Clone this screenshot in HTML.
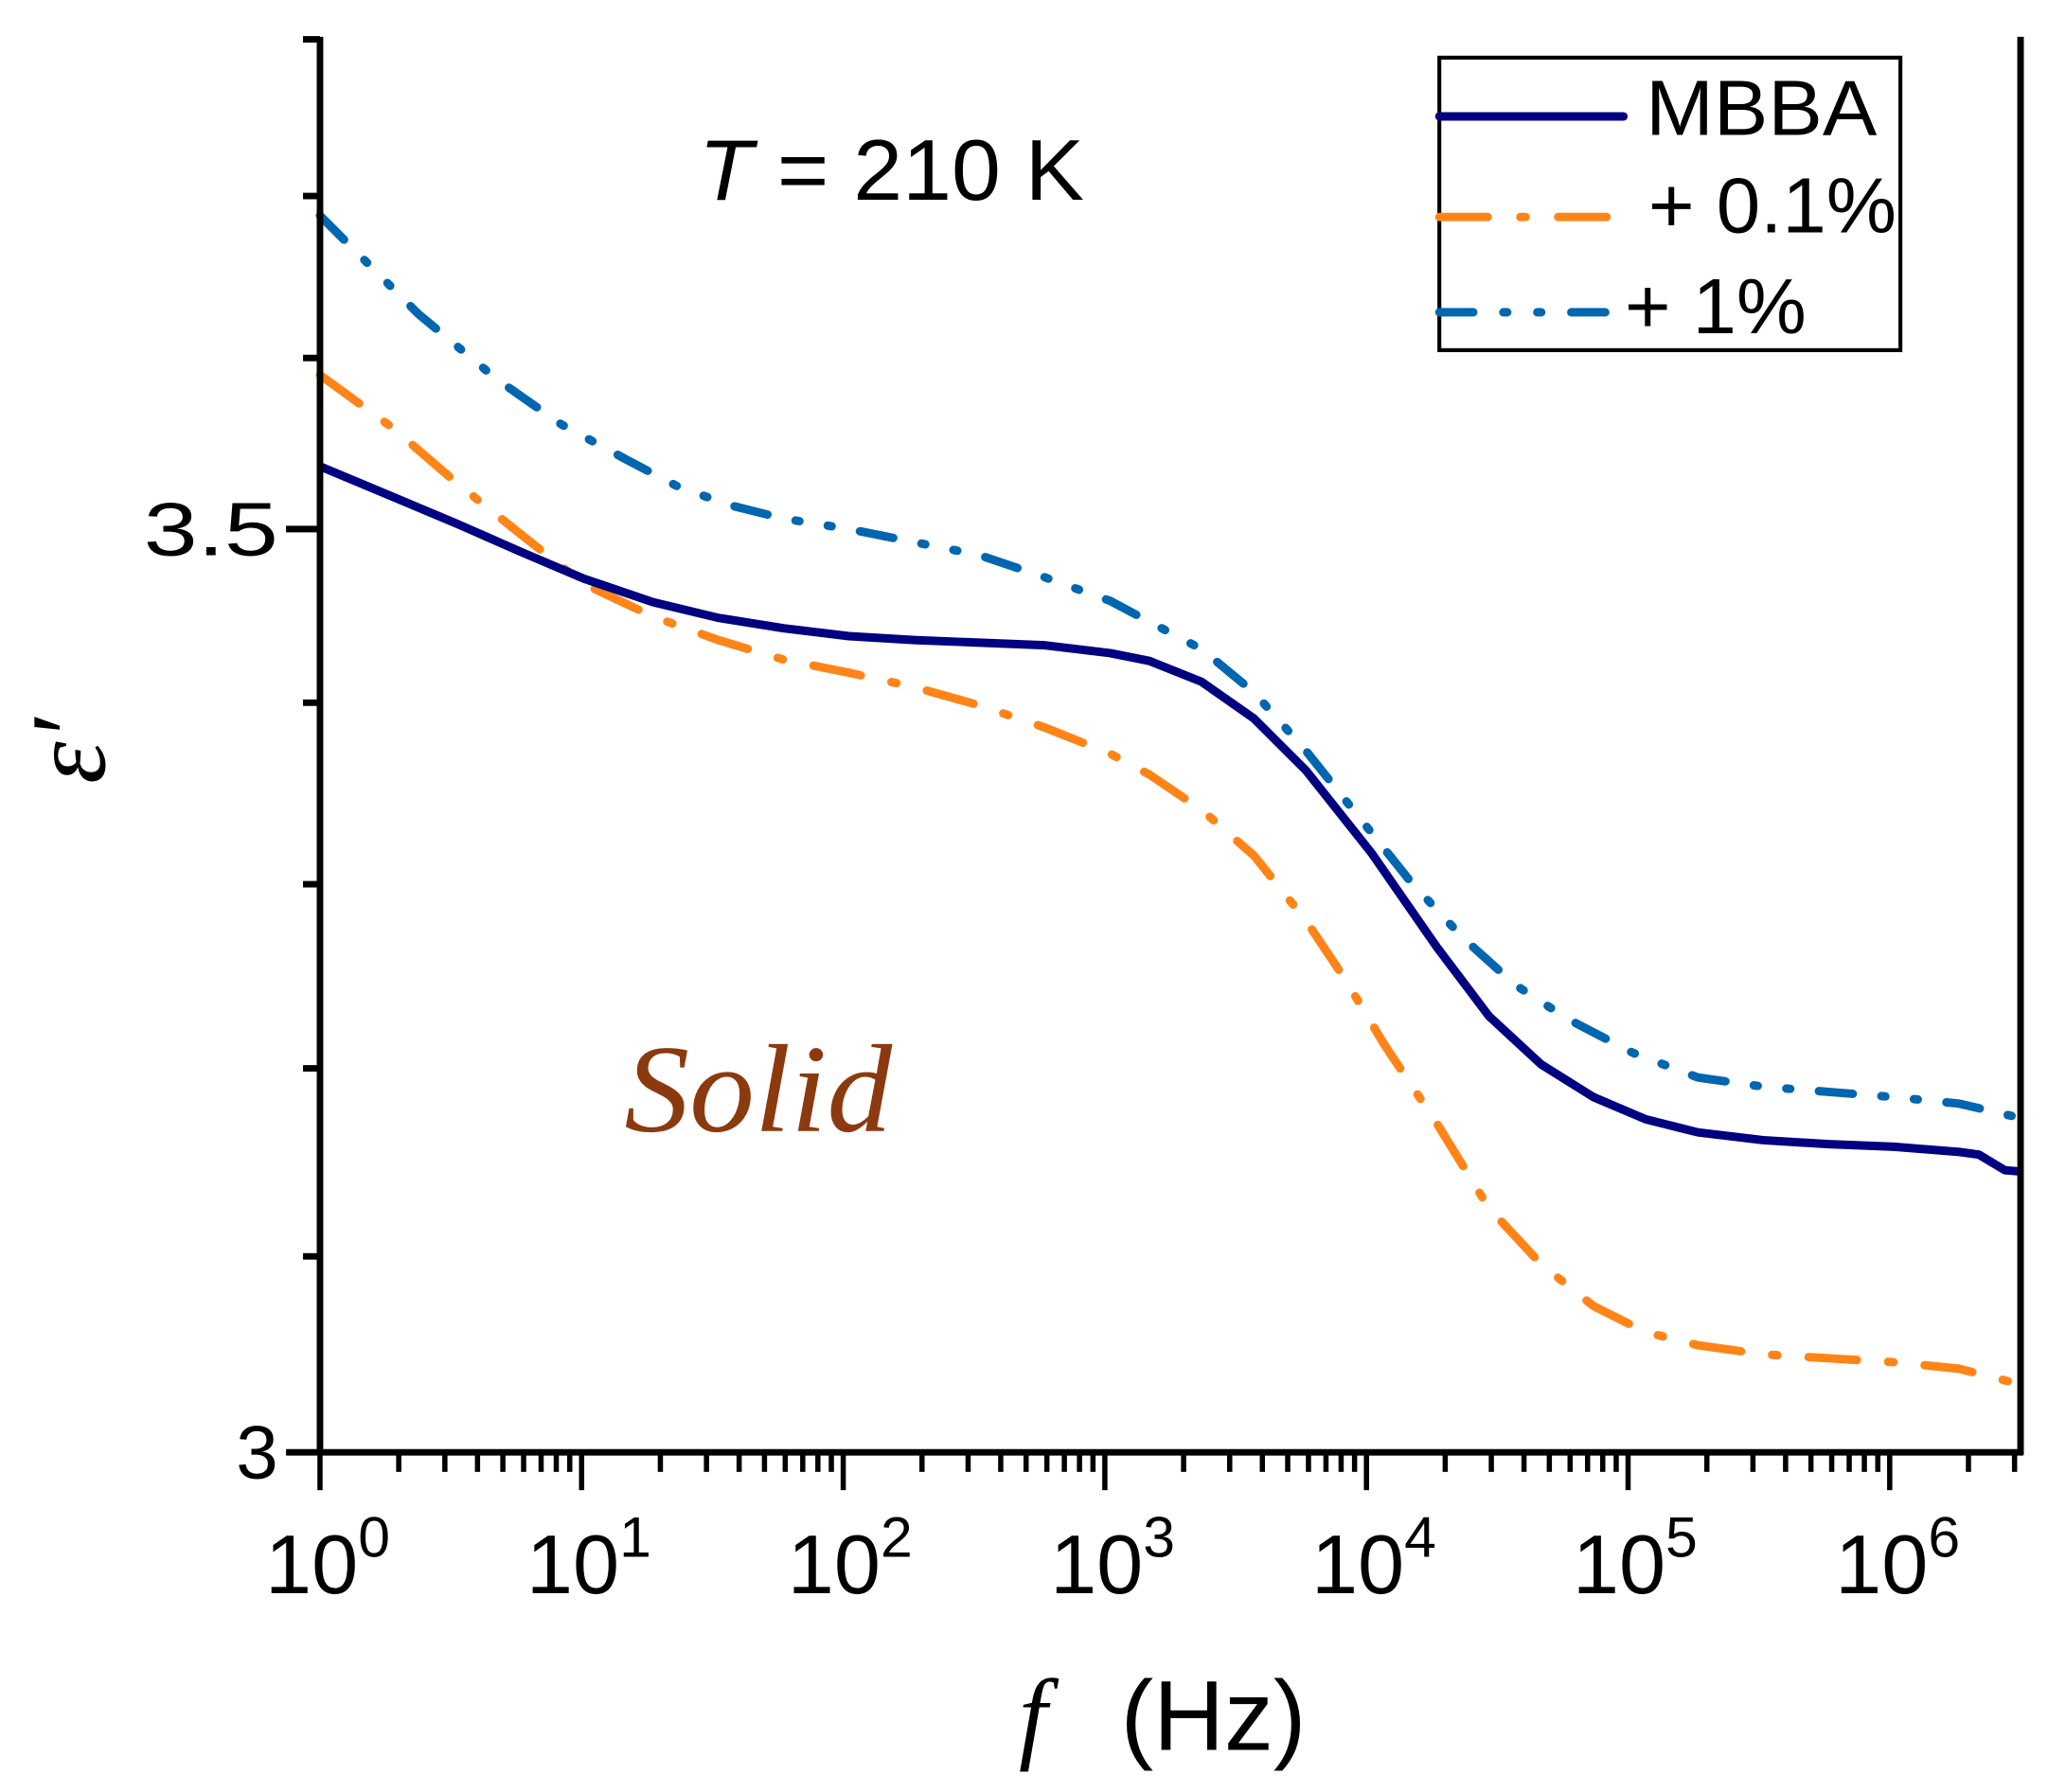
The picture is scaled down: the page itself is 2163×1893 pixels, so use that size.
<!DOCTYPE html>
<html><head><meta charset="utf-8"><style>
html,body{margin:0;padding:0;background:#fff;}
svg{display:block;}
</style></head><body>
<svg width="2163" height="1893" viewBox="0 0 1568 1372" xmlns="http://www.w3.org/2000/svg" font-family="Liberation Sans, sans-serif">
<rect width="1568" height="1372" fill="#fff"/>
<g fill="none" stroke-width="6.5" stroke-linejoin="round">
<polyline stroke="#0066B0" stroke-linecap="round" stroke-dasharray="26 22 3 22 3 22" points="245,165 280,200 320,240 380,290 430,325 480,352 520,373 560,387 600,397 650,405 700,415 750,425 800,442 850,460 880,476 920,497 960,530 1000,575 1040,625 1080,675 1120,718 1160,754 1200,780 1250,806 1300,825 1350,832 1400,836 1450,840 1500,845 1547,856"/>
<polyline stroke="#FF8418" stroke-linecap="round" stroke-dasharray="37 24 4 24" points="245,287 300,327 350,370 400,410 447,447 500,472 550,490 600,505 650,515 700,526 750,540 800,557 850,577 880,593 920,620 960,655 1000,705 1030,750 1060,800 1100,860 1140,925 1180,968 1220,1000 1260,1020 1300,1030 1350,1037 1400,1040 1450,1043 1500,1048 1547,1060"/>
<polyline stroke="#000080" points="245,357 300,380 350,401 400,423 447,443 500,461 550,473 600,481 650,487 700,490 750,492 800,494 850,500 880,506 920,522 960,550 1000,590 1050,653 1100,725 1140,778 1180,815 1220,840 1260,857 1300,867 1350,873 1400,876 1450,878 1500,882 1515,884 1535,896 1547,897"/>
</g>
<g stroke="#000" stroke-width="5" fill="none">
<line x1="245" y1="28" x2="245" y2="1114"/>
<line x1="243" y1="1112" x2="1549" y2="1112"/>
<line x1="1547" y1="28" x2="1547" y2="1114"/>
<line x1="219" y1="1112" x2="245" y2="1112"/>
<line x1="219" y1="405" x2="245" y2="405"/>
<line x1="232" y1="962" x2="245" y2="962"/>
<line x1="232" y1="818" x2="245" y2="818"/>
<line x1="232" y1="677" x2="245" y2="677"/>
<line x1="232" y1="538" x2="245" y2="538"/>
<line x1="232" y1="274" x2="245" y2="274"/>
<line x1="232" y1="150" x2="245" y2="150"/>
<line x1="232" y1="30" x2="245" y2="30"/>
</g>
<defs>
<g id="dec" stroke="#000" stroke-width="4">
<line x1="0" y1="1112" x2="0" y2="1141"/>
<line x1="60.3" y1="1112" x2="60.3" y2="1127"/>
<line x1="95.6" y1="1112" x2="95.6" y2="1127"/>
<line x1="120.6" y1="1112" x2="120.6" y2="1127"/>
<line x1="140" y1="1112" x2="140" y2="1127"/>
<line x1="155.9" y1="1112" x2="155.9" y2="1127"/>
<line x1="169.3" y1="1112" x2="169.3" y2="1127"/>
<line x1="180.9" y1="1112" x2="180.9" y2="1127"/>
<line x1="191.2" y1="1112" x2="191.2" y2="1127"/>
</g>
</defs>
<use href="#dec" x="245"/>
<use href="#dec" x="445.3"/>
<use href="#dec" x="645.6"/>
<use href="#dec" x="845.9"/>
<use href="#dec" x="1046.2"/>
<use href="#dec" x="1246.5"/>
<g stroke="#000" stroke-width="4">
<line x1="1446.8" y1="1112" x2="1446.8" y2="1141"/>
<line x1="1507.1" y1="1112" x2="1507.1" y2="1127"/>
<line x1="1542.4" y1="1112" x2="1542.4" y2="1127"/>
</g>
<g font-size="58" fill="#000">
<text x="213" y="425" text-anchor="end" textLength="103" lengthAdjust="spacingAndGlyphs">3.5</text>
<text x="213" y="1132" text-anchor="end">3</text>
</g>
<g font-size="64" fill="#000">
<text x="203" y="1220">10<tspan font-size="44" dy="-28">0</tspan></text>
<text x="403" y="1220">10<tspan font-size="44" dy="-28">1</tspan></text>
<text x="603" y="1220">10<tspan font-size="44" dy="-28">2</tspan></text>
<text x="804" y="1220">10<tspan font-size="44" dy="-28">3</tspan></text>
<text x="1004" y="1220">10<tspan font-size="44" dy="-28">4</tspan></text>
<text x="1204" y="1220">10<tspan font-size="44" dy="-28">5</tspan></text>
<text x="1405" y="1220">10<tspan font-size="44" dy="-28">6</tspan></text>
</g>
<text x="780" y="1340" font-size="78" font-family="Liberation Serif, serif" font-style="italic">f</text>
<text x="858" y="1340" font-size="76" textLength="142" lengthAdjust="spacingAndGlyphs">(Hz)</text>
<text transform="translate(80,600) rotate(-90)" font-size="82" font-family="Liberation Serif, serif" font-style="italic">ε′</text>
<text x="535" y="153" font-size="66" textLength="295" lengthAdjust="spacingAndGlyphs"><tspan font-style="italic">T</tspan> = 210 K</text>
<text x="478" y="866" font-size="96" font-family="Liberation Serif, serif" font-style="italic" fill="#8B3A0F" textLength="205" lengthAdjust="spacingAndGlyphs">Solid</text>
<rect x="1102" y="44" width="353" height="224" fill="#fff" stroke="#000" stroke-width="3"/>
<g stroke-width="6.5" stroke-linecap="round" fill="none">
<line x1="1102" y1="89" x2="1243" y2="89" stroke="#000080"/>
<line x1="1102" y1="166" x2="1230" y2="166" stroke="#FF8418" stroke-dasharray="37 25 4 25"/>
<line x1="1102" y1="239" x2="1241" y2="239" stroke="#0066B0" stroke-dasharray="26 23 3 23 3 23"/>
</g>
<g font-size="60" fill="#000">
<text x="1260" y="103" textLength="177" lengthAdjust="spacingAndGlyphs">MBBA</text>
<text x="1262" y="178" textLength="190" lengthAdjust="spacingAndGlyphs">+ 0.1%</text>
<text x="1244" y="255" textLength="139" lengthAdjust="spacingAndGlyphs">+ 1%</text>
</g>
</svg>
</body></html>
